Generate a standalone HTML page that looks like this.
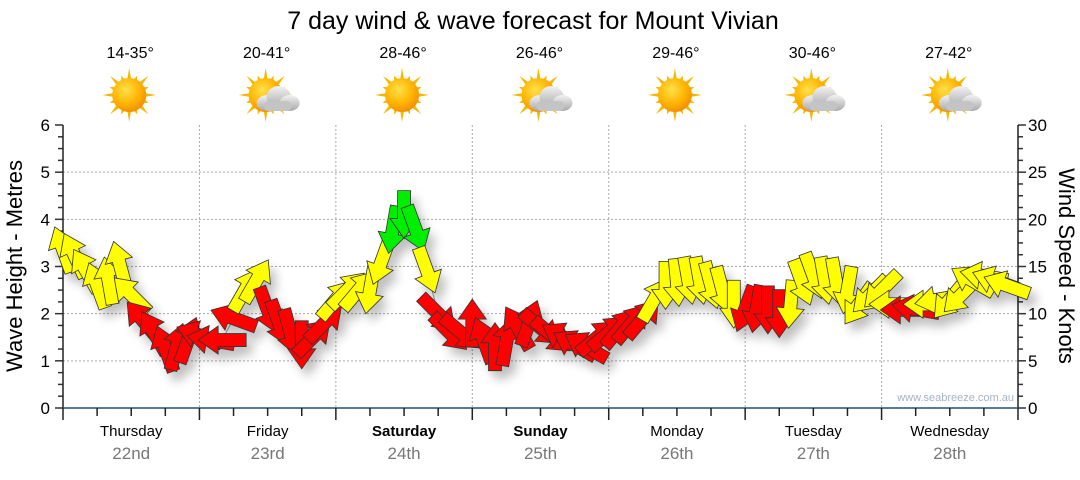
<!DOCTYPE html>
<html><head><meta charset="utf-8"><style>
body{margin:0;background:#fff;width:1080px;height:475px;overflow:hidden;font-family:"Liberation Sans",sans-serif}
svg text{font-family:"Liberation Sans",sans-serif}
</style></head><body>
<svg id="chart" width="1080" height="475" xmlns="http://www.w3.org/2000/svg">
<defs>
<filter id="sh" x="-50%" y="-50%" width="200%" height="200%"><feGaussianBlur in="SourceAlpha" stdDeviation="5"/><feOffset dx="6" dy="8"/><feComponentTransfer><feFuncA type="linear" slope="0.25"/></feComponentTransfer><feMerge><feMergeNode/><feMergeNode in="SourceGraphic"/></feMerge></filter>
<radialGradient id="sunG" cx="40%" cy="35%" r="70%"><stop offset="0" stop-color="#ffe14a"/><stop offset="0.6" stop-color="#ffb300"/><stop offset="1" stop-color="#f08a00"/></radialGradient>
<linearGradient id="cloudG" x1="0" y1="0" x2="0" y2="1"><stop offset="0" stop-color="#f2f2f2"/><stop offset="1" stop-color="#a9a9a9"/></linearGradient>
</defs>
<text x="533" y="29" font-size="25" text-anchor="middle" fill="#000">7 day wind &amp; wave forecast for Mount Vivian</text>
<g id="grid"></g><g id="axes"></g><g id="icons"></g>
<polyline id="trail" fill="none" stroke="#999" stroke-width="1"/>
<g id="arrows" filter="url(#sh)"></g>
<text transform="translate(22,266) rotate(-90)" font-size="22" text-anchor="middle">Wave Height - Metres</text>
<text transform="translate(1059,266) rotate(90)" font-size="22" text-anchor="middle">Wind Speed - Knots</text>
<text x="1014" y="401" font-size="11" text-anchor="end" fill="#a7b3c4">www.seabreeze.com.au</text>
</svg>
<script>
const days=["Thursday","Friday","Saturday","Sunday","Monday","Tuesday","Wednesday"];
const dates=["22nd","23rd","24th","25th","26th","27th","28th"];
const temps=["14-35°","20-41°","28-46°","26-46°","29-46°","30-46°","27-42°"];
const cloudy=[false,true,false,true,false,true,true];
const boldDays=[false,false,true,true,false,false,false];
const waveTicks=[0,1,2,3,4,5,6];
const windTicks=[0,5,10,15,20,25,30];
const windHours=[0,2,4,6,8,10,12,14,16,18,20,22,24,26,28,30,32,34,36,38,40,42,44,46,48,50,52,54,56,58,60,62,64,66,68,70,72,74,76,78,80,82,84,86,88,90,92,94,96,98,100,102,104,106,108,110,112,114,116,118,120,122,124,126,128,130,132,134,136,138,140,142,144,146,148,150,152,154,156,158,160,162,164,166];
const windSpeed=[16.8,16.2,14.6,13,13.5,15.2,12,9.3,8,6.3,6.5,7.2, 7.7,7.2,7.2,9.5,12.5,13.5,10.4,9,8,6.7,7.5,9, 11.5,12.5,12.5,12.5,15.5,18.9,20.5,19,14.6,10,8,8, 9,7.2,6.5,7,8.5,9,8.5,7.7,7.5,6.7,6.5,7.5, 8,8.5,9,9.5,11.5,13,13.3,13.5,13.5,13,12.5,11, 10.5,10.5,10.4,10,11,13.3,14,13.5,13.4,12.5,11,12, 12.5,11,10.4,10.5,11,11.5,11.5,12,13.5,14,13.5,13];
const windDir=[-20,-25,-30,-20,-10,-15,-45,-40,-30,-20,15,20, -70,-80,-90,-70,30,30,160,160,165,180,45,45, 40,45,40,190,200,190,180,160,160,135,135,130, 0,-20,0,10,-30,20,130,130,-60,-60,-60,50, 50,40,40,40,30,180,175,170,170,165,165,180, 200,190,180,180,185,160,160,170,170,190,215,225, 225,-90,-90,-80,-90,-100,220,225,-60,-80,-70,-70];

const NS="http://www.w3.org/2000/svg";
const X0=63,X1=1018,Y0=408,Y1=125;
const xH=h=>X0+(X1-X0)*h/168;
const yW=w=>Y0-(Y0-Y1)*w/6;
const yK=k=>Y0-(Y0-Y1)*k/30;
function mk(tag,attrs,parent){const e=document.createElementNS(NS,tag);for(const k in attrs)e.setAttribute(k,attrs[k]);parent.appendChild(e);return e;}
const grid=document.getElementById('grid'),axes=document.getElementById('axes'),icons=document.getElementById('icons'),arrows=document.getElementById('arrows');
waveTicks.forEach(w=>{if(w>0&&w<6){const l=mk('line',{x1:X0,x2:X1,y1:yW(w),y2:yW(w),stroke:'#aaa','stroke-dasharray':'2,2'},grid);

}
const t=mk('text',{x:50,y:yW(w)+6,'font-size':17,'text-anchor':'end'},axes);t.textContent=w;

});
windTicks.forEach(k=>{const t=mk('text',{x:1028,y:yK(k)+6,'font-size':17},axes);t.textContent=k;

});
for(let i=0;i<=24;i++){const y=Y0-(Y0-Y1)*i/24;const len=i%4==0?8:5;
mk('line',{x1:X0-len,x2:X0,y1:y,y2:y,stroke:'#333','stroke-width':1.5},axes);
mk('line',{x1:X1,x2:X1+(i%4==0?8:5),y1:y,y2:y,stroke:'#333','stroke-width':1.5},axes);}
mk('line',{x1:X0,x2:X0,y1:Y1,y2:Y0,stroke:'#222','stroke-width':1.5},axes);
mk('line',{x1:X1,x2:X1,y1:Y1,y2:Y0,stroke:'#222','stroke-width':1.5},axes);
mk('line',{x1:X0,x2:X1,y1:Y0,y2:Y0,stroke:'#1f4e79','stroke-width':1.5},axes);
for(let h=0;h<=168;h+=6){mk('line',{x1:xH(h),x2:xH(h),y1:Y0,y2:Y0+(h%24==0?12:8),stroke:'#222','stroke-width':1.5},axes);
if(h%24==0&&h>0&&h<168){const l=mk('line',{x1:xH(h),x2:xH(h),y1:Y1,y2:Y0,stroke:'#aaa','stroke-dasharray':'2,2'},grid);

}}
days.forEach((d,i)=>{const cx=xH(i*24+12);
const t=mk('text',{x:cx,y:436,'font-size':15,'text-anchor':'middle','font-weight':boldDays[i]?'bold':'normal'},axes);t.textContent=d;


const t2=mk('text',{x:cx,y:459,'font-size':17,'text-anchor':'middle',fill:'#777'},axes);t2.textContent=dates[i];


const t3=mk('text',{x:cx-1,y:58,'font-size':16,'text-anchor':'middle'},icons);t3.textContent=temps[i];


const g=mk('g',{transform:`translate(${cx-2},95)`},icons);


for(let a=0;a<16;a++){const L=a%2==0?27:21;const r=a*Math.PI/8;
const w=0.12;mk('polygon',{points:`${Math.sin(r-w)*16},${-Math.cos(r-w)*16} ${Math.sin(r)*L},${-Math.cos(r)*L} ${Math.sin(r+w)*16},${-Math.cos(r+w)*16}`,fill:'#f5b800'},g);}
mk('circle',{r:17,fill:'url(#sunG)'},g);
if(cloudy[i]){const c=mk('g',{transform:'translate(10,4)'},g);
mk('ellipse',{cx:-8,cy:4,rx:11,ry:8,fill:'url(#cloudG)'},c);mk('ellipse',{cx:3,cy:-2,rx:12,ry:11,fill:'url(#cloudG)'},c);
mk('ellipse',{cx:14,cy:4,rx:10,ry:8,fill:'url(#cloudG)'},c);mk('rect',{x:-12,y:2,width:28,height:10,rx:5,fill:'#c4c4c4'},c);}
});
const pts=[];
windHours.forEach((h,i)=>{const x=xH(h),y=yK(windSpeed[i]);pts.push(x+','+y);
const s=windSpeed[i];const col=s<11?'#ff0000':(s<17.5?'#ffff00':'#00ee00');
const p=mk('polygon',{points:'0,-24 14,-4 6.5,-4 6.5,24 -6.5,24 -6.5,-4 -14,-4',fill:col,stroke:'#333','stroke-width':0.8,transform:`translate(${x},${y}) rotate(${windDir[i]})`},arrows);

});
document.getElementById('trail').setAttribute('points',pts.join(' '));
</script>
</body></html>
